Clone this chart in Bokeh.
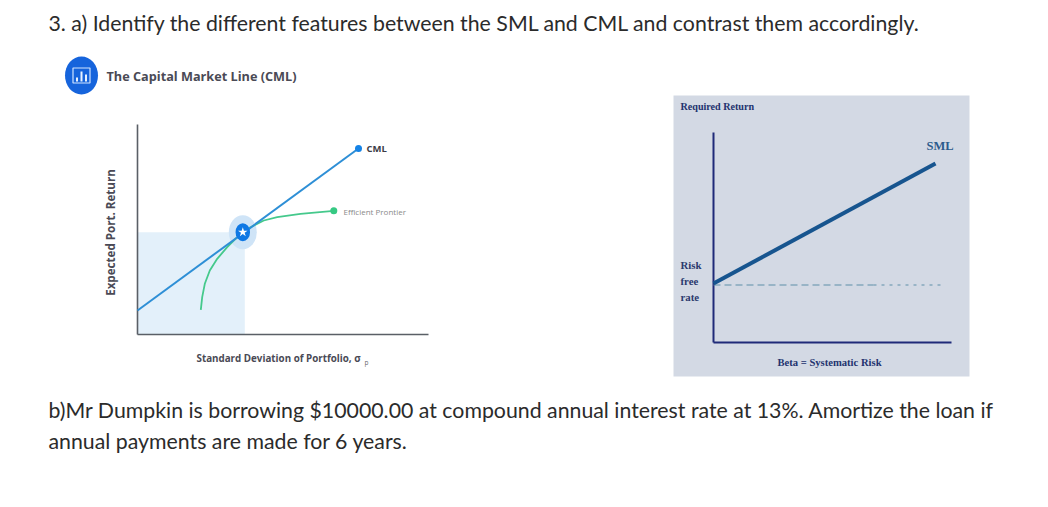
import math
from bokeh.plotting import figure
from bokeh.models import Range1d
from bokeh.core.properties import value
from bokeh.embed import file_html
from bokeh.resources import INLINE

# --- text ---
question_a = "3. a) Identify the different features between the SML and CML and contrast them accordingly."
question_b1 = "b)Mr Dumpkin is borrowing $10000.00 at compound annual interest rate at 13%. Amortize the loan if"
question_b2 = "annual payments are made for 6 years."
cml_title = "The Capital Market Line (CML)"
cml_xlabel = "Standard Deviation of Portfolio, \u03c3"
cml_ylabel = "Expected Port. Return"
sml_ylabel = "Required Return"
sml_xlabel = "Beta = Systematic Risk"
rf_label = ["Risk", "free", "rate"]

# --- left chart: sigma vs expected return ---
cml_sigma = [0.0, 22.1]
cml_return = [2.4, 18.6]
frontier_sigma = [6.33, 6.47, 6.73, 7.23, 7.97, 8.97, 9.8, 11.3, 12.63, 13.97, 16.3, 19.63]
frontier_return = [2.47, 3.73, 5.07, 6.4, 7.57, 8.73, 9.57, 10.73, 11.4, 11.73, 12.07, 12.37]
market_sigma = 10.53
market_return = 10.23
cml_axis_x_max = 29.1
cml_axis_y_max = 21.0

# --- right chart: beta vs required return ---
sml_beta = [0.0, 2.22]
sml_return = [0.59, 1.79]
rf_rate = 0.575
rf_end_long = 1.60
rf_end = 2.30
sml_axis_x_max = 2.38
sml_axis_y_max = 2.10

W, H = 1040, 499
L, T = 0, 0
p = figure(width=W, height=H, output_backend="svg", toolbar_location=None,
           x_range=Range1d(L, L + W), y_range=Range1d(T + H, T),
           x_axis_location=None, y_axis_location=None, min_border=0)
p.outline_line_color = None
p.grid.visible = False
p.background_fill_color = "white"
p.border_fill_color = "white"


def xr(px0, scale):
    return Range1d((L - px0) / scale, (L + W - px0) / scale)


def yr(py0, scale):
    return Range1d((py0 - (T + H)) / scale, (py0 - T) / scale)


p.extra_x_ranges = {"cx": xr(137, 10), "sx": xr(713, 100)}
p.extra_y_ranges = {"cy": yr(334, 10), "sy": yr(342, 100)}
C = dict(x_range_name="cx", y_range_name="cy")
S = dict(x_range_name="sx", y_range_name="sy")


def txt(x, y, s, size, color, font="Open Sans", style="normal", align="left", base="middle", angle=0.0):
    p.text([x], [y], text=[s], text_font=value(font), text_font_size=f"{size}px", text_font_style=style,
           text_color=color, text_align=align, text_baseline=base, angle=angle)


# page text
TC = "#2b2b2b"
txt(48, 22, question_a, 21.3, TC, font="Lato")
txt(48, 409, question_b1, 21.3, TC, font="Lato")
txt(48, 440, question_b2, 21.3, TC, font="Lato")

# icon + title
p.ellipse([81], [75], width=33, height=38, fill_color="#1664dc", line_color=None)
p.rect([81], [75], width=17, height=15, fill_color=None, line_color="#cfe3ff", line_width=1.2)
p.vbar(x=[76.5, 81, 85.5], width=2, top=[81, 81, 81], bottom=[77, 71, 74], fill_color="#e8f2ff", line_color=None)
txt(106, 75, cml_title, 12.7, "#4a4a55", style="bold")

# left chart
p.quad(left=[0], right=[market_sigma + 0.2], bottom=[0], top=[market_return], fill_color="#e3f0fa", line_color=None, **C)
p.line([0, 0], [0, cml_axis_y_max], line_color="#5a5f66", line_width=1.6, **C)
p.line([0, cml_axis_x_max], [0, 0], line_color="#5a5f66", line_width=1.6, **C)
p.ellipse([market_sigma], [market_return], width=2.8, height=3.4, fill_color="#cfe4f7", line_color=None, **C)
p.line(frontier_sigma, frontier_return, line_color="#45c98c", line_width=1.8, **C)
p.line(cml_sigma, cml_return, line_color="#2e8fd6", line_width=2, **C)
p.scatter([frontier_sigma[-1]], [frontier_return[-1]], size=7, marker="circle", fill_color="#36c983", line_color=None, **C)
p.scatter([cml_sigma[-1]], [cml_return[-1]], size=7, marker="circle", fill_color="#1583e6", line_color=None, **C)
p.ellipse([market_sigma], [market_return], width=1.45, height=1.8, fill_color="#0f78e4", line_color=None, **C)
p.scatter([market_sigma], [market_return], size=10, marker="star", fill_color="white", line_color=None, **C)
txt(366, 148, "CML", 9.5, "#3c3c46", style="bold")
txt(343, 211, "Efficient Prontier", 8, "#8a8a8a")
txt(196, 358, cml_xlabel, 9.8, "#4a4a55", style="bold")
txt(364, 362, "p", 6.5, "#6a6a70")
txt(110, 232, cml_ylabel, 11.6, "#4a4a55", style="bold", align="center", angle=math.pi / 2)

# right chart
p.quad(left=[673], right=[969], top=[95], bottom=[376], fill_color="#d3d9e4", line_color=None)
p.line([0, 0], [0, sml_axis_y_max], line_color="#1f2a78", line_width=2, **S)
p.line([0, sml_axis_x_max], [0, 0], line_color="#1f2a78", line_width=2.2, **S)
p.line([0, rf_end_long], [rf_rate, rf_rate], line_color="#5f8fa8", line_width=1.2, line_dash="7 4", **S)
p.line([rf_end_long, rf_end], [rf_rate, rf_rate], line_color="#5f8fa8", line_width=1.2, line_dash="3 5", **S)
p.line(sml_beta, sml_return, line_color="#17558f", line_width=4, **S)
SF = "Liberation Serif"
txt(680, 106, sml_ylabel, 10.1, "#23336f", font=SF, style="bold")
txt(926, 145, "SML", 12.5, "#2c5b8c", font=SF, style="bold")
for yy, s in zip([264, 280, 296], rf_label):
    txt(680, yy, s, 10.8, "#2b3a6e", font=SF, style="bold")
txt(777, 362, sml_xlabel, 10.6, "#23336f", font=SF, style="bold")

open("out.html", "w").write(file_html(p, INLINE))
